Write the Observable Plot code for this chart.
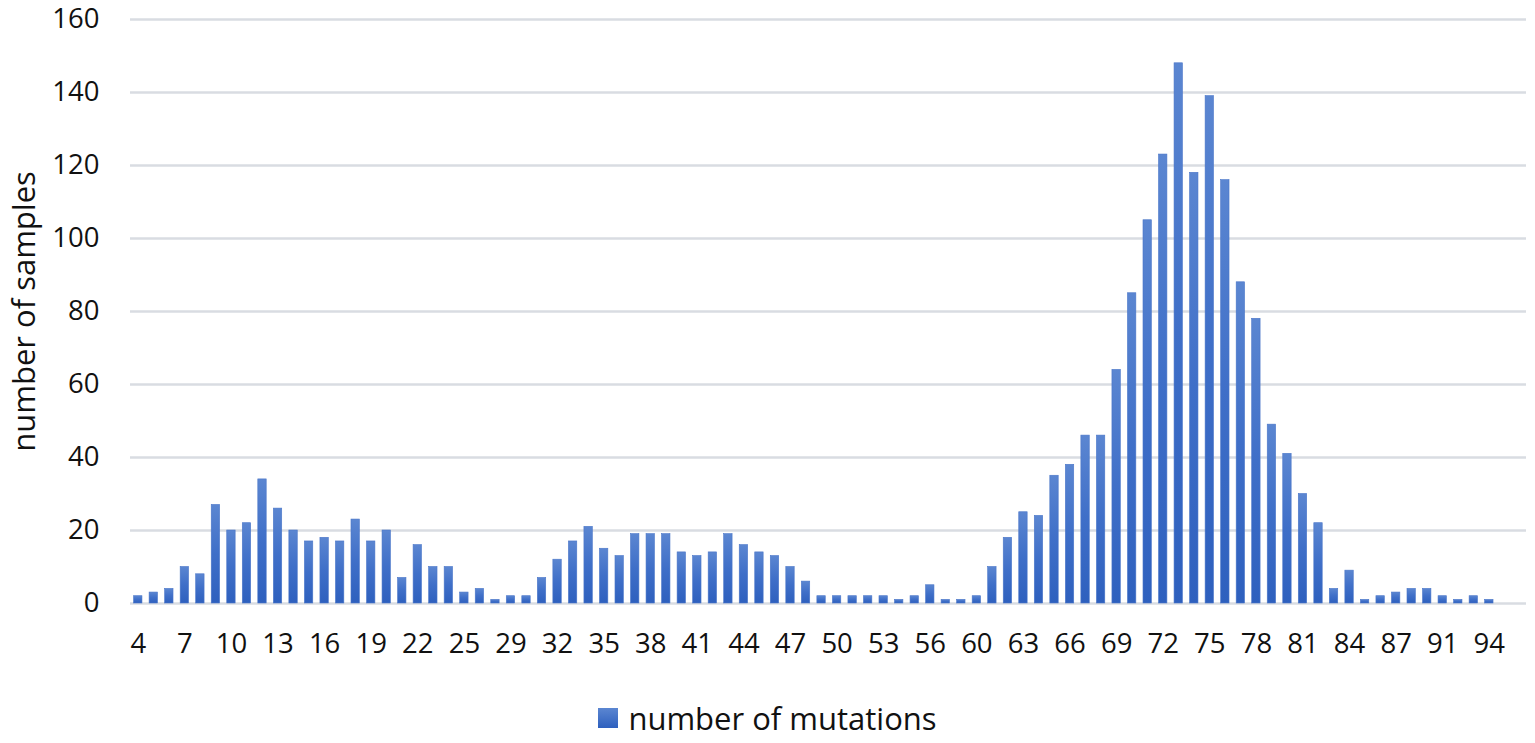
<!DOCTYPE html>
<html>
<head>
<meta charset="utf-8">
<script src="https://cdn.jsdelivr.net/npm/d3@7"></script>
<script src="https://cdn.jsdelivr.net/npm/@observablehq/plot@0.6"></script>
<style>
  html, body { margin: 0; padding: 0; background: #fff; }
  #wrap { position: relative; width: 1535px; height: 743px; overflow: hidden; }
  #legend { position: absolute; left: 0; top: 697px; width: 1535px; height: 42px;
    display: flex; justify-content: center; align-items: center;
    font-family: "Open Sans", sans-serif; font-size: 31px; color: #111; }
  #legend .sw { width: 20px; height: 20px; margin-right: 10px;
    background: linear-gradient(#5B86D1, #2E60BE); }
</style>
</head>
<body>
<div id="wrap">
  <div id="chart"></div>
  <div id="legend"><span class="sw"></span><span>number of mutations</span></div>
</div>
<script>
// number of mutations (categories present in the chart)
const categories = [
  4, 5, 6, 7, 8, 9, 10, 11, 12, 13, 14, 15, 16, 17, 18, 19, 20, 21, 22, 23, 24, 25, 26, 27,
  29, 30, 31, 32, 33, 34, 35, 36, 37, 38, 39, 40, 41, 42, 43, 44, 45, 46, 47, 48, 49, 50, 51, 52, 53, 54, 55, 56, 57, 58,
  60, 61, 62, 63, 64, 65, 66, 67, 68, 69, 70, 71, 72, 73, 74, 75, 76, 77, 78, 79, 80, 81, 82, 83, 84, 85, 86, 87, 88, 89,
  91, 92, 93, 94
];
// number of samples
const samples = [
  2, 3, 4, 10, 8, 27, 20, 22, 34, 26, 20, 17, 18, 17, 23, 17, 20, 7, 16, 10, 10, 3, 4, 1,
  2, 2, 7, 12, 17, 21, 15, 13, 19, 19, 19, 14, 13, 14, 19, 16, 14, 13, 10, 6, 2, 2, 2, 2, 2, 1, 2, 5, 1, 1,
  2, 10, 18, 25, 24, 35, 38, 46, 46, 64, 85, 105, 123, 148, 118, 139, 116, 88, 78, 49, 41, 30, 22, 4, 9, 1, 2, 3, 4, 4,
  2, 1, 2, 1
];
const xTickLabels = [4, 7, 10, 13, 16, 19, 22, 25, 29, 32, 35, 38, 41, 44, 47, 50, 53, 56, 60, 63, 66, 69, 72, 75, 78, 81, 84, 87, 91, 94];
const yTicks = [0, 20, 40, 60, 80, 100, 120, 140, 160];
const yLabel = "number of samples";

const data = categories.map((c, i) => ({cat: String(c), n: samples[i]}));

const font = "'Open Sans', sans-serif";
const svg = Plot.plot({
  width: 1535,
  height: 680,
  marginLeft: 130,
  marginRight: 9,
  marginTop: 19,
  marginBottom: 77,
  style: {fontFamily: font, fontSize: "27px", color: "#111", background: "#fff"},
  x: {type: "band", domain: categories.map(String), range: [130, 1496.6], paddingInner: 0.46, paddingOuter: 0.23, label: null},
  y: {domain: [0, 160], label: null},
  marks: [
    Plot.ruleY(yTicks, {stroke: "#D9DCE2", strokeWidth: 2.5}),
    Plot.barY(data, {x: "cat", y: "n", fill: "url(#barGrad)", stroke: "#4a76c8", strokeWidth: 0.6}),
    Plot.axisX({ticks: xTickLabels.map(String), tickSize: 0, tickPadding: 30, fontSize: 27.5, fill: "#111"}),
    Plot.axisY({ticks: yTicks, tickSize: 0, tickPadding: 31, fontSize: 27.5, fill: "#111"}),
    Plot.text([yLabel], {frameAnchor: "left", textAnchor: "middle", rotate: -90, dx: -105, fontSize: 31, fill: "#111"})
  ]
});

const NS = "http://www.w3.org/2000/svg";
const defs = document.createElementNS(NS, "defs");
const grad = document.createElementNS(NS, "linearGradient");
grad.setAttribute("id", "barGrad");
grad.setAttribute("x1", "0"); grad.setAttribute("y1", "0");
grad.setAttribute("x2", "0"); grad.setAttribute("y2", "1");
[["0%", "#5B86D1"], ["50%", "#3F6FC8"], ["100%", "#2E60BE"]].forEach(([o, c]) => {
  const s = document.createElementNS(NS, "stop");
  s.setAttribute("offset", o); s.setAttribute("stop-color", c);
  grad.appendChild(s);
});
defs.appendChild(grad);
svg.insertBefore(defs, svg.firstChild);
document.getElementById("chart").appendChild(svg);
</script>
</body>
</html>
